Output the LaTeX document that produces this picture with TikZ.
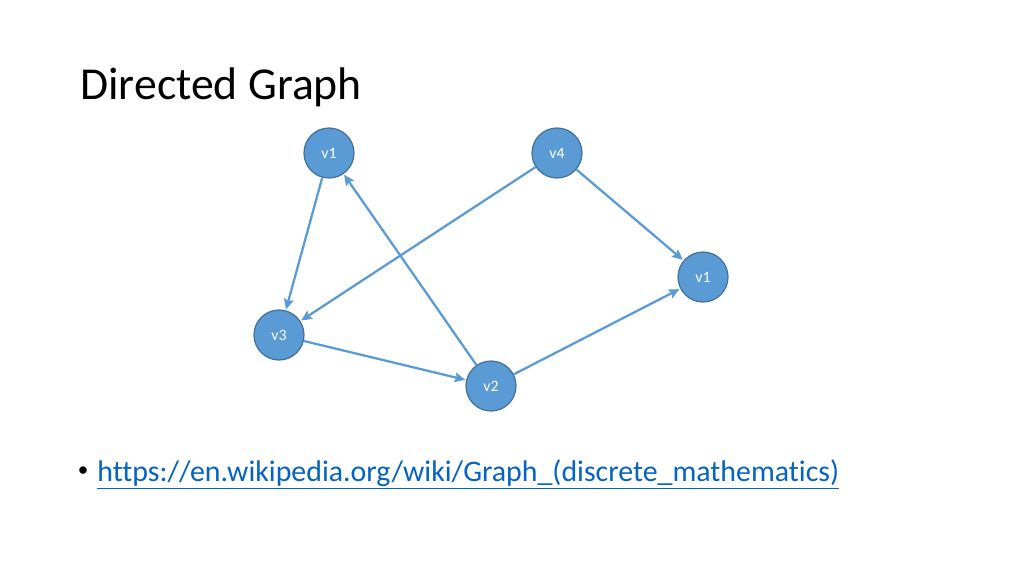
\documentclass[tikz,border=0pt]{standalone}
\usepackage{fontspec}
\setmainfont{Carlito}[Ligatures=NoCommon]
\usetikzlibrary{arrows.meta}
\definecolor{modra}{HTML}{5B9BD5}
\definecolor{robvozla}{HTML}{41719C}
\definecolor{povezava}{HTML}{0563C1}
\begin{document}
\begin{tikzpicture}[x=0.02cm, y=-0.02cm,
  vozel/.style={circle, draw=robvozla, fill=modra, line width=0.7pt, minimum size=1cm, inner sep=0pt, text=white, font=\fontsize{9}{11}\selectfont},
  lok/.style={draw=modra, line width=1.3pt, -{Stealth[length=6pt, width=5.5pt, inset=1pt]}, shorten >=0.5pt}]
  % okvir
  \useasboundingbox (0,0) rectangle (1024,576);
  % naslov
  \node [anchor=base west, inner sep=0pt, font=\fontsize{26}{30}\selectfont] (naslov) at (80,99) {Directed Graph};
  % vozlisca
  \node [vozel] (v1) at (329,153) {v1};
  \node [vozel] (v4) at (557,153) {v4};
  \node [vozel] (v1d) at (703,277) {v1};
  \node [vozel] (v3) at (279,335) {v3};
  \node [vozel] (v2) at (491,386) {v2};
  % povezave
  \draw [lok] (v1) -- (v3);
  \draw [lok] (v2) -- (v1);
  \draw [lok] (v4) -- (v3);
  \draw [lok] (v4) -- (v1d);
  \draw [lok] (v3) -- (v2);
  \draw [lok] (v2) -- (v1d);
  % povezava na vir
  \node [anchor=center, inner sep=0pt, font=\fontsize{12}{14}\selectfont] (pika) at (83,472) {\textbullet};
  \node [anchor=base west, inner sep=0pt, text=povezava, font=\fontsize{17}{20}\selectfont] (url) at (97,481) {\underline{https://en.wikipedia.org/wiki/Graph\_(discrete\_mathematics)}};
\end{tikzpicture}
\end{document}
